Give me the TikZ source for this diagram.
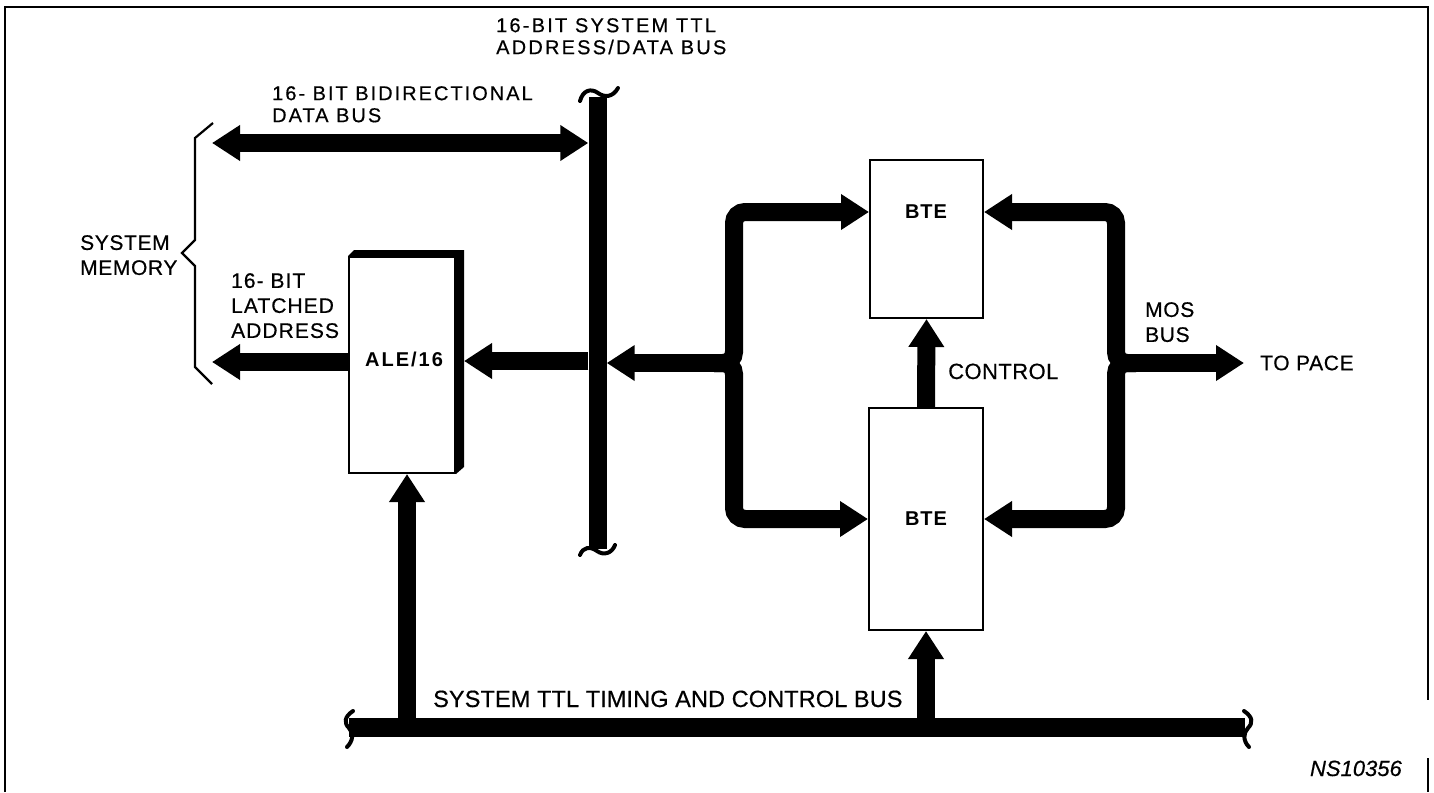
\documentclass[tikz,border=0pt]{standalone}
\usepackage{fontspec}
\setmainfont{Liberation Sans}
\usetikzlibrary{arrows.meta}
\newcommand\labfont[3]{\fontsize{#1}{#2}\selectfont\addfontfeature{LetterSpace=#3,FakeBold=0.5}}
\begin{document}
\begin{tikzpicture}[x=1pt,y=-1pt,
  lbl/.style={inner sep=0pt, align=left, anchor=north west},
  box/.style={draw, line width=2pt, inner sep=0pt, fill=white},
  arr/.style={line width=18pt, -{Triangle[length=28pt,width=34pt]}},
  darr/.style={line width=18pt, {Triangle[length=28pt,width=34pt]}-{Triangle[length=28pt,width=34pt]}},
  brc/.style={line width=18pt, rounded corners=11pt, -{Triangle[length=28pt,width=34pt]}},
  squig/.style={line width=4pt, line cap=round},
  frameline/.style={line width=2.2pt},
  bar/.style={fill=black, inner sep=0pt}
]
\useasboundingbox (0,0) rectangle (1434,792);

% frame
\draw[frameline] (5,792) -- (5,7) -- (1428,7) -- (1428,700);
\draw[frameline] (1428,758) -- (1428,792);

% system address/data bus (vertical)
\node[bar, minimum width=18pt, minimum height=452pt] (tbus) at (597.5,323) {};
\draw[squig] (580,101) .. controls (583,90) and (591,88) .. (598,93) .. controls (605,98) and (613,97) .. (618,88);
\draw[squig] (580,555) .. controls (583,547) and (590,546) .. (597,551) .. controls (604,556) and (612,553) .. (615,545);

% timing and control bus (horizontal)
\node[bar, minimum width=896pt, minimum height=19pt] (tim) at (797,727.5) {};
\draw[squig] (353,711) .. controls (344,717) and (344,723) .. (349,728) .. controls (354,733) and (353,741) .. (347,747);
\draw[squig] (1244,711) .. controls (1253,717) and (1253,723) .. (1248,728) .. controls (1243,733) and (1243,741) .. (1249,747);

% ALE/16 box with shadow
\node[box, minimum width=106pt, minimum height=216pt] (ale) at (402,365) {};
\fill (ale.north west) -- ++(6,-6) -- ([shift={(8,-6)}]ale.north east) -- ([shift={(8,-7)}]ale.south east) -- (ale.south east) -- (ale.north east) -- cycle;
\node[inner sep=0pt, font=\fontsize{20}{24}\selectfont\bfseries\addfontfeature{LetterSpace=10}] (alet) at (404,359) {ALE/16};

% BTE boxes
\node[box, minimum width=113pt, minimum height=158pt] (bte1) at (926.5,239) {};
\node[box, minimum width=114pt, minimum height=222pt] (bte2) at (926,519) {};
\node[inner sep=0pt, font=\fontsize{20}{24}\selectfont\bfseries\addfontfeature{LetterSpace=5}] (bte1t) at (926,212) {BTE};
\node[inner sep=0pt, font=\fontsize{20}{24}\selectfont\bfseries\addfontfeature{LetterSpace=5}] (bte2t) at (926,519) {BTE};

% coordinates for free ends
\coordinate (memA) at (212,143);
\coordinate (memB) at (212,362);
\coordinate (aleR) at ([shift={(8,-4)}]ale.east);
\coordinate (aleB) at ([xshift=5pt]ale.south);
\coordinate (jl) at (734,363);
\coordinate (jr) at (1116,363);

% labels
\node[lbl, font={\labfont{20}{22}{11}}] (tl) at (496,18) {16-BIT SYSTEM TTL\\ADDRESS/DATA BUS};
\node[lbl, font={\labfont{20}{22}{10}}] (bd) at (272,86) {16- BIT BIDIRECTIONAL\\DATA BUS};
\node[lbl, font={\labfont{21}{25}{5}}] (la) at (231,273) {16- BIT\\LATCHED\\ADDRESS};
\node[lbl, font={\labfont{21}{25}{3}}] (sm) at (80,235) {SYSTEM\\MEMORY};
\node[lbl, font={\labfont{21}{25}{3}}] (mos) at (1145,302) {MOS\\BUS};
\node[inner sep=0pt, anchor=west, font={\labfont{21}{25}{3}}] (pace) at (1260,363) {TO PACE};
\node[inner sep=0pt, anchor=base west, font={\labfont{22}{26}{2}}] (ctl) at (948,379) {CONTROL};
\node[inner sep=0pt, anchor=base west, font={\labfont{23.5}{26}{0.5}}] (tl2) at (433,707) {SYSTEM TTL TIMING AND CONTROL BUS};
\node[inner sep=0pt, anchor=base east, font={\fontsize{22}{26}\selectfont\itshape\addfontfeature{FakeBold=0.5}}] (ns) at (1402,776) {NS10356};

% system memory brace
\draw[line width=2.2pt] (213,123) -- (195,138) -- (195,240) -- (182,253) -- (195,266) -- (195,367) -- (212,384);

% connectors
\draw[darr] (memA) -- (memA -| tbus.west);
\draw[arr] (memB -| ale.west) -- (memB);
\draw[arr] (aleR -| tbus.west) -- (aleR);
\draw[arr] (jl) -- (jl -| tbus.east);
\draw[brc] ([xshift=-20pt]jl) -- (jl) -- (jl |- bte1t) -- (bte1.west |- bte1t);
\draw[brc] ([xshift=-20pt]jl) -- (jl) -- (jl |- bte2t) -- (bte2.west |- bte2t);
\draw[brc] ([xshift=20pt]jr) -- (jr) -- (jr |- bte1t) -- (bte1.east |- bte1t);
\draw[brc] ([xshift=20pt]jr) -- (jr) -- (jr |- bte2t) -- (bte2.east |- bte2t);
\draw[arr] (jr) -- ([xshift=-16pt]pace.west);
\draw[arr] (bte2.north) -- (bte1.south);
\draw[arr] (aleB |- tim.center) -- (aleB);
\draw[arr] (bte2.south |- tim.center) -- (bte2.south);
\end{tikzpicture}
\end{document}
